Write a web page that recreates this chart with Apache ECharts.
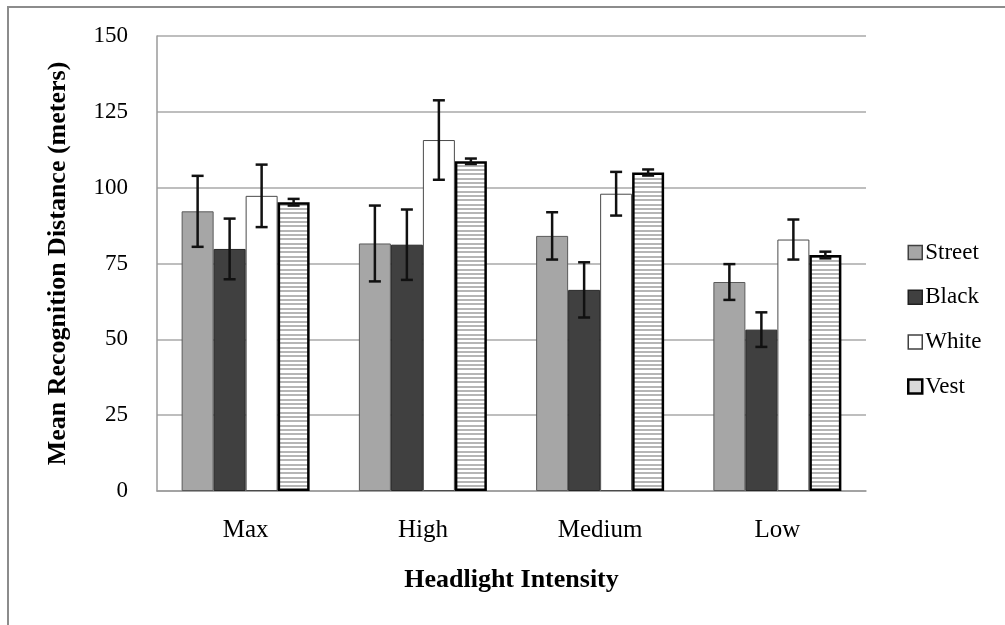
<!DOCTYPE html>
<html>
<head>
<meta charset="utf-8">
<script src="https://cdn.jsdelivr.net/npm/echarts@6/dist/echarts.min.js"></script>
<style>
html,body{margin:0;padding:0;background:#fff;}
#c{width:1005px;height:625px;}
</style>
</head>
<body>
<div id="c"></div>
<script>
var categories = ['Max', 'High', 'Medium', 'Low'];
var seriesNames = ['Street', 'Black', 'White', 'Vest'];
var street = [92.2, 81.6, 84.1, 68.9];
var streetErr = [11.7, 12.5, 7.8, 5.9];
var black = [79.8, 81.2, 66.3, 53.2];
var blackErr = [10.0, 11.6, 9.1, 5.7];
var white = [97.3, 115.7, 98.0, 82.9];
var whiteErr = [10.3, 13.1, 7.2, 6.6];
var vest = [95.2, 108.7, 105.0, 77.8];
var vestErr = [1.1, 0.9, 1.0, 1.1];
var yTicks = [0, 25, 50, 75, 100, 125, 150];

var FONT = "'Liberation Serif', 'Times New Roman', serif";
var BW = 32;

function stripePattern() {
  var cv = document.createElement('canvas');
  cv.width = 8; cv.height = 13;
  var ctx = cv.getContext('2d');
  ctx.fillStyle = '#ffffff';
  ctx.fillRect(0, 0, 8, 13);
  ctx.fillStyle = '#b5b5b5';
  ctx.fillRect(0, 0, 8, 2);
  ctx.fillRect(0, 4, 8, 2);
  ctx.fillRect(0, 9, 8, 2);
  return cv;
}

var allVals = [street, black, white, vest];
var allErrs = [streetErr, blackErr, whiteErr, vestErr];

var barStyles = [
  {color: '#a6a6a6', borderColor: '#5a5a5a', borderWidth: 1},
  {color: '#404040', borderColor: '#262626', borderWidth: 1},
  {color: '#ffffff', borderColor: '#4a4a4a', borderWidth: 1},
  {color: {image: stripePattern(), repeat: 'repeat'}, borderColor: '#000000', borderWidth: 2.5}
];

var series = [];
seriesNames.forEach(function (n, idx) {
  series.push({
    name: n,
    type: 'bar',
    barWidth: BW,
    barGap: '0%',
    data: allVals[idx],
    itemStyle: barStyles[idx],
    emphasis: {disabled: true},
    z: 2
  });
});
seriesNames.forEach(function (n, idx) {
  series.push({
    type: 'custom',
    silent: true,
    z: 10,
    data: allVals[idx].map(function (v, i) { return [i, v, allErrs[idx][i]]; }),
    encode: {x: 0, y: 1},
    renderItem: function (params, api) {
      var c = api.value(0), m = api.value(1), e = api.value(2);
      var hi = api.coord([c, m + e]);
      var lo = api.coord([c, m - e]);
      var x = hi[0] + (idx - 1.5) * BW;
      var cap = 6;
      var st = {stroke: '#111', lineWidth: 2.5};
      return {
        type: 'group',
        children: [
          {type: 'line', shape: {x1: x, y1: hi[1], x2: x, y2: lo[1]}, style: st},
          {type: 'line', shape: {x1: x - cap, y1: hi[1], x2: x + cap, y2: hi[1]}, style: st},
          {type: 'line', shape: {x1: x - cap, y1: lo[1], x2: x + cap, y2: lo[1]}, style: st}
        ]
      };
    }
  });
});

var chart = echarts.init(document.getElementById('c'), null, {renderer: 'canvas'});
chart.setOption({
  animation: false,
  backgroundColor: '#ffffff',
  graphic: [{
    type: 'rect',
    shape: {x: 8, y: 7, width: 1100, height: 700},
    style: {fill: 'none', stroke: '#8c8c8c', lineWidth: 2},
    silent: true
  }],
  grid: {left: 157, right: 139, top: 36, bottom: 134},
  legend: {
    left: 902,
    top: 236,
    orient: 'vertical',
    icon: 'rect',
    itemWidth: 14,
    itemHeight: 14,
    itemGap: 21.7,
    selectedMode: false,
    textStyle: {fontFamily: FONT, fontSize: 23, color: '#000', lineHeight: 23, padding: [0, 0, 0, -2]},
    data: [
      {name: 'Street', itemStyle: {color: '#a6a6a6', borderColor: '#404040', borderWidth: 1.5}},
      {name: 'Black', itemStyle: {color: '#404040', borderColor: '#202020', borderWidth: 1.5}},
      {name: 'White', itemStyle: {color: '#ffffff', borderColor: '#404040', borderWidth: 1.5}},
      {name: 'Vest', itemStyle: {color: '#d9d9d9', borderColor: '#000000', borderWidth: 2.5}}
    ]
  },
  xAxis: {
    type: 'category',
    data: categories,
    name: 'Headlight Intensity',
    nameLocation: 'middle',
    nameGap: 76,
    nameTextStyle: {fontFamily: FONT, fontSize: 26, fontWeight: 'bold', color: '#000'},
    axisLine: {lineStyle: {color: '#9a9a9a', width: 1.5}},
    axisTick: {show: false},
    axisLabel: {fontFamily: FONT, fontSize: 25, color: '#000', margin: 27},
    splitLine: {show: false}
  },
  yAxis: {
    type: 'value',
    min: 0,
    max: 150,
    interval: 25,
    name: 'Mean Recognition Distance (meters)',
    nameLocation: 'middle',
    nameGap: 86,
    nameTextStyle: {fontFamily: FONT, fontSize: 26, fontWeight: 'bold', color: '#000'},
    axisLine: {show: true, lineStyle: {color: '#9a9a9a', width: 1.5}},
    axisTick: {show: false},
    axisLabel: {
      fontFamily: FONT, fontSize: 23, color: '#000', margin: 29,
      formatter: function (v) { return yTicks.indexOf(v) >= 0 ? String(v) : ''; }
    },
    splitLine: {lineStyle: {color: '#a8a8a8', width: 1.5}}
  },
  series: series
});
</script>
</body>
</html>
